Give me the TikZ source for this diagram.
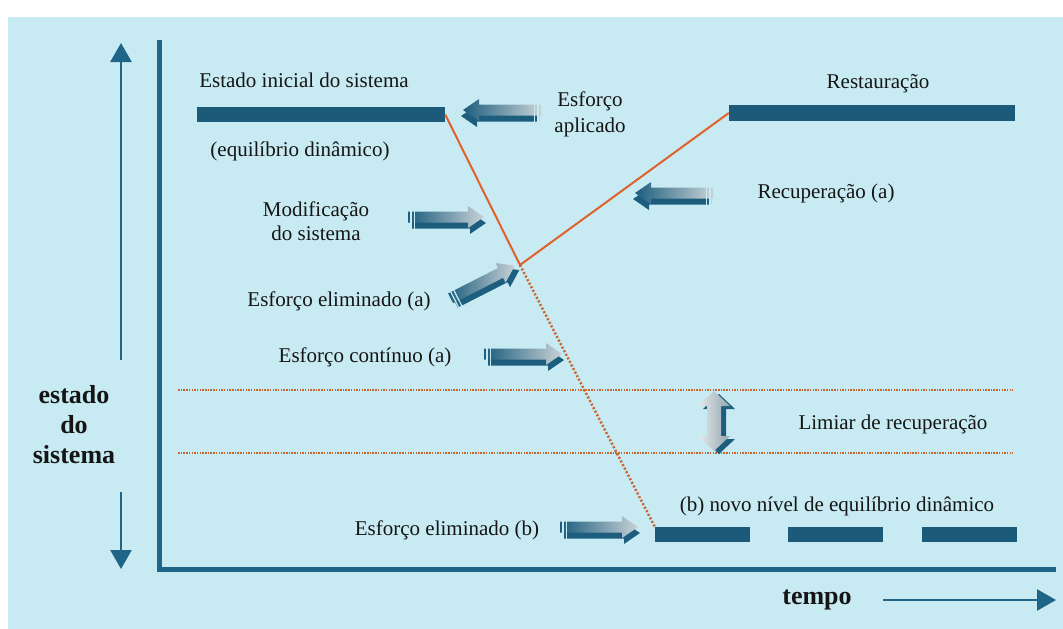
\documentclass[tikz,border=0pt]{standalone}
\usepackage{fontspec}
\setmainfont{Liberation Serif}
\newfontfamily\lblfont{Liberation Serif}
\usetikzlibrary{arrows.meta,calc}

\definecolor{bgblue}{HTML}{C8EBF3}
\definecolor{bardark}{HTML}{1B5B79}
\definecolor{axisblue}{HTML}{1E6588}
\definecolor{inkdark}{HTML}{151515}
\definecolor{redline}{HTML}{E0612C}
\definecolor{dotline}{HTML}{C9652E}
\definecolor{fatdark}{HTML}{1D5E7E}
\definecolor{fatlight}{HTML}{C8D2D6}
\definecolor{dblight}{HTML}{E4EAEC}
\definecolor{dbmid}{HTML}{93A6AE}

\tikzset{
  lbl/.style={font=\lblfont\fontsize{21}{25}\selectfont, text=inkdark, inner sep=0pt, align=center},
  bigl/.style={font=\lblfont\fontsize{26}{30}\selectfont\bfseries, text=inkdark, inner sep=0pt, align=center},
  bar/.style={fill=bardark, inner sep=0pt, draw=none},
  trend/.style={draw=redline, line width=2pt},
  trenddot/.style={draw=dotline, line width=2.5pt, dash pattern=on 2pt off 2pt},
  thresh/.style={draw=dotline, line width=1.6pt, dash pattern=on 1.5pt off 1.2pt},
  axisline/.style={draw=axisblue, line width=5pt, line join=miter},
  dirarrow/.style={draw=axisblue, line width=2.5pt, -{Triangle[length=19pt,width=21pt]}},
}

% Fat shaded arrow: [rotation] tail x, tail y, direction (1 right, -1 left), length
\newcommand\FatArrow[5][0]{%
  \begin{scope}[shift={(#2,#3)}, rotate=#1]
    \pgfmathsetmacro\fa{#4*(#5-16)}
    \pgfmathsetmacro\fb{#4*#5}
    \pgfmathsetmacro\fs{#4*2}
    \begin{scope}[shift={(\fs,3)}]
      \fill[fatdark] (0,-5.5) -- (\fa,-5.5) -- (\fa,-11) -- (\fb,0) -- (\fa,11) -- (\fa,5.5) -- (0,5.5) -- cycle;
    \end{scope}
    \begin{scope}[shift={(0,-3)}]
      \shade[left color=fatdark, right color=fatlight]
        (0,-5.5) -- (\fa,-5.5) -- (\fa,-11) -- (\fb,0) -- (\fa,11) -- (\fa,5.5) -- (0,5.5) -- cycle;
    \end{scope}
    \draw[bgblue, line width=1.2pt] ({#4*3},-9) -- ({#4*3},9) ({#4*6.5},-9) -- ({#4*6.5},9);
  \end{scope}}

\begin{document}
\begin{tikzpicture}[x=1pt, y=-1pt]
  \useasboundingbox (0,0) rectangle (1063,629);
  \fill[white] (0,0) rectangle (1063,629);
  \fill[bgblue] (8,17) rectangle (1063,629);

  % axes
  \draw[axisline] (159,40) -- (159,569) -- (1056,569);

  % direction arrows beside the axes
  \coordinate (upA) at (121,360);
  \coordinate (upB) at (121,43);
  \coordinate (dnA) at (121,492);
  \coordinate (dnB) at (121,569);
  \coordinate (tmA) at (883,600);
  \coordinate (tmB) at (1056,600);
  \draw[dirarrow] (upA) -- (upB);
  \draw[dirarrow] (dnA) -- (dnB);
  \draw[dirarrow] (tmA) -- (tmB);

  \node[bigl] (ylab) at (74,425) {estado\\do\\sistema};
  \node[bigl] (xlab) at (817,600) {tempo};

  % equilibrium levels
  \node[bar, minimum width=248pt, minimum height=15pt] (init) at (321,114.5) {};
  \node[bar, minimum width=286pt, minimum height=16pt] (rest) at (872,113) {};
  \node[bar, minimum width=95pt, minimum height=15pt] (nb1) at (702.5,534.5) {};
  \node[bar, minimum width=95pt, minimum height=15pt] (nb2) at (835.5,534.5) {};
  \node[bar, minimum width=95pt, minimum height=15pt] (nb3) at (969.5,534.5) {};

  % recovery threshold band
  \coordinate (t1a) at (178,390);
  \coordinate (t1b) at (1013,390);
  \coordinate (t2a) at (178,453);
  \coordinate (t2b) at (1013,453);
  \draw[thresh] (t1a) -- (t1b);
  \draw[thresh] (t2a) -- (t2b);

  % system trajectory
  \coordinate (v) at (520,265);
  \draw[trend] (init.east) -- (v) -- (rest.west);
  \draw[trenddot] (v) -- (nb1.north west);

  % labels
  \node[lbl] (tInit) at (304,80) {Estado inicial do sistema};
  \node[lbl] (tEq) at (300,151) {(equilíbrio dinâmico)};
  \node[lbl] (tRest) at (878,84) {Restauração};
  \node[lbl, font=\lblfont\fontsize{21}{26}\selectfont] (tApl) at (590,114) {Esforço\\aplicado};
  \node[lbl] (tRec) at (826,193) {Recuperação (a)};
  \node[lbl, font=\lblfont\fontsize{21}{24}\selectfont] (tMod) at (316,221) {Modificação\\do sistema};
  \node[lbl] (tElA) at (339,301) {Esforço eliminado (a)};
  \node[lbl] (tCont) at (365,357) {Esforço contínuo (a)};
  \node[lbl] (tLim) at (893,424) {Limiar de recuperação};
  \node[lbl] (tNovo) at (837,506) {(b) novo nível de equilíbrio dinâmico};
  \node[lbl] (tElB) at (447,530) {Esforço eliminado (b)};

  % shaded effort arrows
  \FatArrow{541}{113}{-1}{78}
  \FatArrow{713}{196}{-1}{78}
  \FatArrow{408}{220}{1}{76}
  \FatArrow[27]{452}{301}{1}{72}
  \FatArrow{484}{357}{1}{78}
  \FatArrow{560}{530}{1}{78}

  % two-way arrow across the threshold band
  \begin{scope}[shift={(719,424)}]
    \fill[fatdark] (-7,-15) -- (-16,-15) -- (0,-30) -- (16,-15) -- (7,-15) -- (7,15)
      -- (16,15) -- (0,30) -- (-16,15) -- (-7,15) -- cycle;
  \end{scope}
  \begin{scope}[shift={(714,421)}]
    \shade[left color=dblight, right color=dbmid]
      (-7,-15) -- (-16,-15) -- (0,-30) -- (16,-15) -- (7,-15) -- (7,15)
      -- (16,15) -- (0,30) -- (-16,15) -- (-7,15) -- cycle;
  \end{scope}
\end{tikzpicture}
\end{document}
